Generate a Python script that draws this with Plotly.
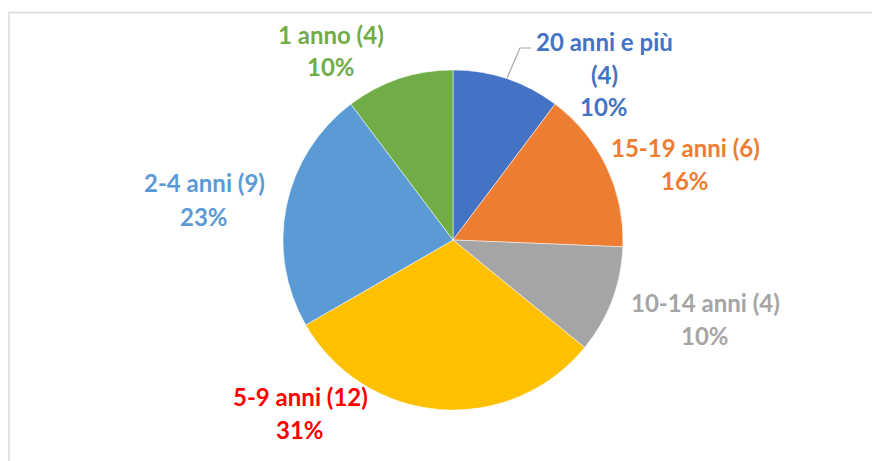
import plotly.graph_objects as go

# age bands, clockwise from 12 o'clock
categories = ["20 anni e più", "15-19 anni", "10-14 anni", "5-9 anni", "2-4 anni", "1 anno"]
counts = [4, 6, 4, 12, 9, 4]
pct_labels = ["10%", "16%", "10%", "31%", "23%", "10%"]
slice_colors = ["#4472C4", "#ED7D31", "#A5A5A5", "#FFC000", "#5B9BD5", "#70AD47"]
label_colors = ["#4472C4", "#ED7D31", "#A5A5A5", "#FF0000", "#5B9BD5", "#70AD47"]

W, H = 880, 461
OFF = 8  # page body margin shifts everything by 8px

fig = go.Figure(go.Pie(
    labels=categories,
    values=counts,
    sort=False,
    direction="clockwise",
    rotation=0,
    marker=dict(colors=slice_colors, line=dict(color="white", width=0.5)),
    textinfo="none",
    hoverinfo="label+value+percent",
    domain=dict(x=[(453 - OFF - 170) / W, (453 - OFF + 170) / W],
                y=[(H - (240 - OFF) - 170) / H, (H - (240 - OFF) + 170) / H]),
))

# label blocks: lines, centre x px, first line y px
label_lines = [
    ["20 anni e più", "(4)", pct_labels[0]],
    [categories[1] + " (6)", pct_labels[1]],
    [categories[2] + " (4)", pct_labels[2]],
    [categories[3] + " (12)", pct_labels[3]],
    [categories[4] + " (9)", pct_labels[4]],
    [categories[5] + " (4)", pct_labels[5]],
]
label_pos = [(604, 41), (685, 147), (705, 302), (300, 396), (204, 183), (331, 34)]
line_gap = 33


def px(x):
    return (x - OFF) / W


def py(y):
    return 1 - (y - OFF) / H


annotations = []
for lines, (cx, cy), col in zip(label_lines, label_pos, label_colors):
    for i, t in enumerate(lines):
        annotations.append(dict(
            text=t, x=px(cx), y=py(cy + i * line_gap),
            xref="paper", yref="paper", showarrow=False,
            xanchor="center", yanchor="middle",
            font=dict(family="Lato", size=24, color=col, weight="bold"),
        ))

shapes = [
    # chart frame
    dict(type="rect", xref="paper", yref="paper",
         x0=px(9), x1=1.05, y0=-0.05, y1=py(12.5),
         line=dict(color="#D9D9D9", width=1.5), fillcolor="rgba(0,0,0,0)"),
    # leader line for the top slice
    dict(type="path", xref="paper", yref="paper",
         path=f"M {px(507)},{py(78)} L {px(520)},{py(48)} L {px(531)},{py(48)}",
         line=dict(color="#A6A6A6", width=1.2)),
]

fig.update_layout(
    width=W, height=H,
    margin=dict(l=0, r=0, t=0, b=0),
    paper_bgcolor="white",
    plot_bgcolor="white",
    showlegend=False,
    annotations=annotations,
    shapes=shapes,
)

fig.write_html("out.html")
